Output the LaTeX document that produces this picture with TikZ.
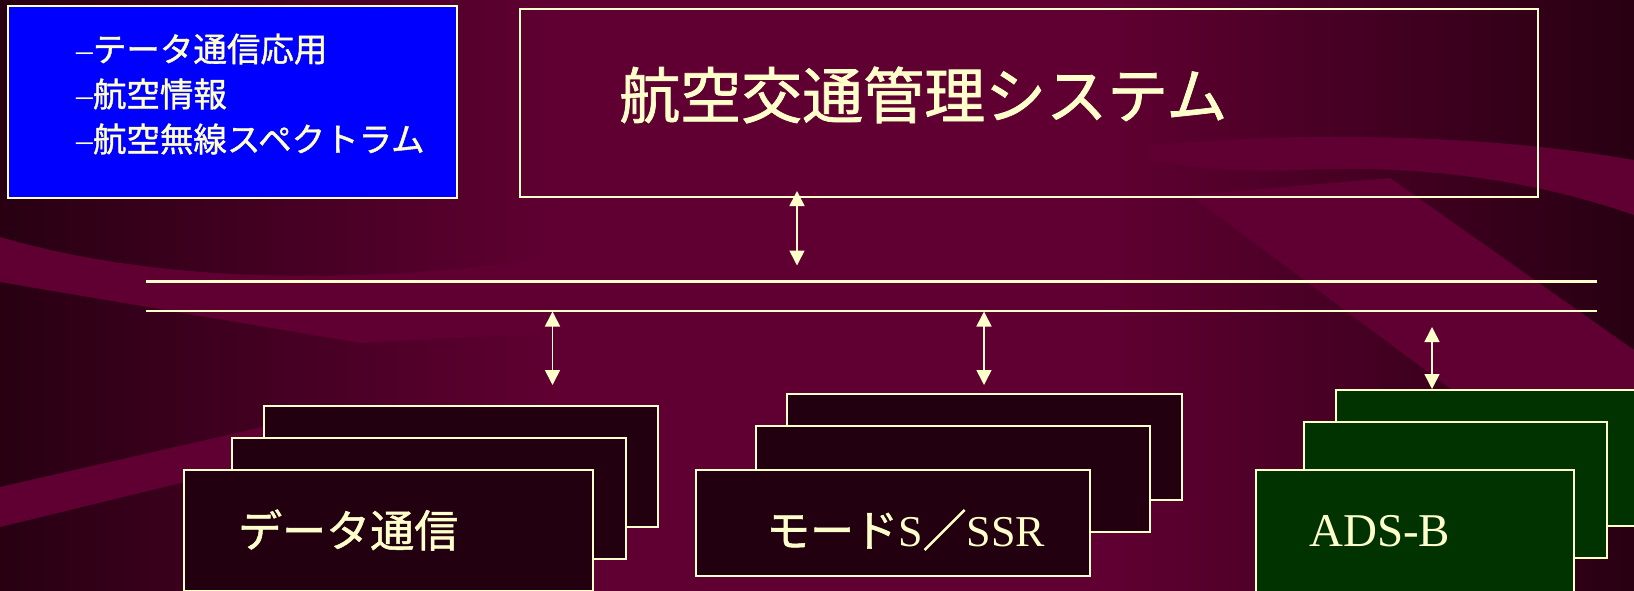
\documentclass[tikz,border=0pt]{standalone}
\usepackage{fontspec}
\setmainfont{Liberation Serif}
\newfontfamily\jp[FakeBold=1.2]{Noto Sans CJK JP}
\usetikzlibrary{arrows.meta}
\definecolor{bgdark}{HTML}{280012}
\definecolor{bgmaroon}{HTML}{600032}
\definecolor{cream}{HTML}{FFFFCC}
\definecolor{boxdark}{HTML}{220010}
\definecolor{boxgreen}{HTML}{003300}
\definecolor{boxblue}{HTML}{0000FF}
\begin{document}
\begin{tikzpicture}[x=1pt,y=-1pt,
  framebox/.style={draw=cream, line width=2.5pt, inner sep=0pt, outer sep=0pt, anchor=north west},
  stackbox/.style={framebox, fill=boxdark},
  greenbox/.style={framebox, fill=boxgreen},
  label/.style={text=cream, inner sep=0pt, anchor=west},
  busline/.style={draw=cream, line width=2.6pt},
  dbl/.style={draw=cream, line width=1.6pt, {Triangle[width=15pt,length=15pt]}-{Triangle[width=15pt,length=15pt]}}
]
\useasboundingbox (0,0) rectangle (1634,591);
\clip (0,0) rectangle (1634,591);
% background
\shade[left color=bgdark, right color=bgmaroon] (0,0) rectangle (561,591);
\fill[bgmaroon] (560,0) rectangle (1101,591);
\shade[left color=bgmaroon, right color=bgdark] (1100,0) rectangle (1634,591);
\fill[bgmaroon] (0,237) .. controls (180,290) and (420,285) .. (620,245) -- (620,330) -- (360,343) -- (0,282) -- cycle;
\fill[bgmaroon] (0,487) -- (320,414) -- (320,449) -- (0,527) -- cycle;
\fill[bgmaroon] (1150,145) .. controls (1350,128) and (1520,140) .. (1634,160) -- (1634,215) .. controls (1520,175) and (1400,165) .. (1300,170) .. controls (1250,172) and (1200,170) .. (1150,160) -- cycle;
\fill[bgmaroon] (1190,195) -- (1390,178) -- (1634,350) -- (1634,500) -- (1600,500) -- cycle;

% blue box
\node[framebox, fill=boxblue, minimum width=449pt, minimum height=192pt] (info) at (8,6) {};
\node[label, font=\fontsize{33.5}{40}\selectfont] (l1) at (76,49) {–{\jp テータ通信応用}};
\node[label, font=\fontsize{33.5}{40}\selectfont] (l2) at (76,94) {–{\jp 航空情報}};
\node[label, font=\fontsize{33.5}{40}\selectfont] (l3) at (76,139) {–{\jp 航空無線スペクトラム}};

% main box
\node[framebox, minimum width=1018pt, minimum height=188pt] (atm) at (520,9) {};
\node[label, font=\jp\fontsize{61}{70}\selectfont] (atmtext) at (619,95) {航空交通管理システム};

% bus
\coordinate (busAL) at (146,281.5);
\coordinate (busAR) at (1597,281.5);
\coordinate (busBL) at (146,311);
\coordinate (busBR) at (1597,311);
\draw[busline] (busAL) -- (busAR);
\draw[busline] (busBL) -- (busBR);

% stack 1
\node[stackbox, minimum width=394pt, minimum height=121pt] (s1c) at (264,406) {};
\node[stackbox, minimum width=394pt, minimum height=121pt] (s1b) at (232,438) {};
\node[stackbox, minimum width=409pt, minimum height=121pt] (s1a) at (184,470) {};
\node[label, font=\jp\fontsize{44}{50}\selectfont] (t1) at (238,530) {データ通信};

% stack 2
\node[stackbox, minimum width=395pt, minimum height=106pt] (s2c) at (787,394) {};
\node[stackbox, minimum width=394pt, minimum height=106pt] (s2b) at (756,426) {};
\node[stackbox, minimum width=394pt, minimum height=106pt] (s2a) at (696,470) {};
\node[label, font=\fontsize{44}{50}\selectfont] (t2) at (766,530) {{\jp モード}S{\jp ／}SSR};

% stack 3
\node[greenbox, minimum width=303pt, minimum height=136pt] (s3c) at (1336,390) {};
\node[greenbox, minimum width=303pt, minimum height=136pt] (s3b) at (1304,422) {};
\node[greenbox, minimum width=318pt, minimum height=136pt] (s3a) at (1256,470) {};
\node[label, font=\fontsize{47}{52}\selectfont] (t3) at (1309,531) {ADS-B};

% arrows
\coordinate (a0t) at (797,191);
\coordinate (a0b) at (797,265.5);
\coordinate (a1t) at (552.5,311.5);
\coordinate (a1b) at (552.5,385);
\coordinate (a2t) at (984,311.5);
\coordinate (a2b) at (984,385);
\coordinate (a3t) at (1432,327);
\coordinate (a3b) at (1432,389);
\draw[dbl] (a0t) -- (a0b);
\draw[dbl] (a1t) -- (a1b);
\draw[dbl] (a2t) -- (a2b);
\draw[dbl] (a3t) -- (a3b);
\end{tikzpicture}
\end{document}
